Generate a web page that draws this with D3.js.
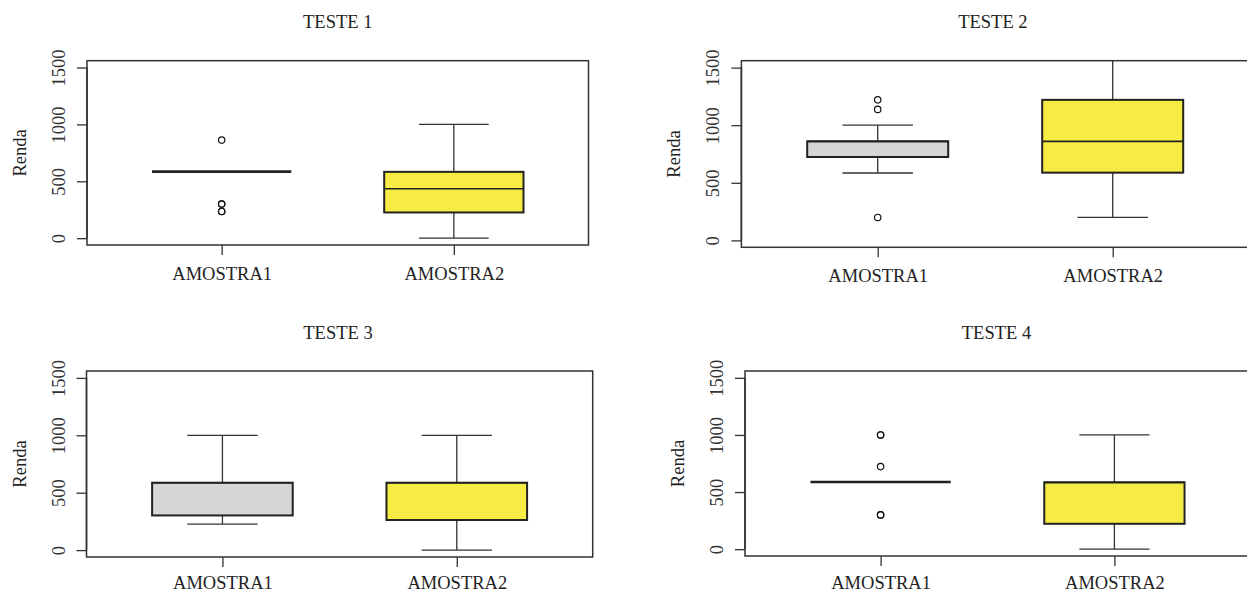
<!DOCTYPE html>
<html>
<head>
<meta charset="utf-8">
<script src="https://cdn.jsdelivr.net/npm/d3@7"></script>
<style>
  html, body { margin: 0; padding: 0; background: #fff; }
  svg { display: block; }
  svg text { font-family: "Liberation Serif", "Times New Roman", Times, serif !important; font-size: 18.5px; }
</style>
</head>
<body>
<svg id="chart" width="1247" height="594"></svg>
<script>
// Four boxplots of income (Renda), two samples each.

const tests = ['TESTE 1', 'TESTE 2', 'TESTE 3', 'TESTE 4'];
const samples = ['AMOSTRA1', 'AMOSTRA2'];
const yTicks = [0, 500, 1000, 1500];

// [lower whisker, Q1, median, Q3, upper whisker] per test
const amostra1Stats = [
  [585, 585, 585, 585, 585],
  [585, 724, 860, 860, 1000],
  [227, 302, 587, 587, 1000],
  [588, 588, 588, 588, 588],
];
const amostra2Stats = [
  [0, 226, 435, 583, 1000],
  [199, 588, 860, 1220, 2000],
  [0, 262, 587, 587, 1000],
  [0, 222, 585, 585, 1000],
];
const amostra1Outliers = [
  [862, 300, 300, 235, 235],
  [1220, 1137, 199],
  [],
  [1000, 1000, 723, 300, 300],
];
const amostra2Outliers = [[], [], [], []];

const fills = ['#d6d6d6', '#f7ec43'];

// plot frames: [left, top, right, bottom] and x-label offset
const frames = [
  [87, 60.7, 588.5, 245],
  [741.4, 60.7, 1249, 247.3],
  [86.5, 371, 592.7, 557],
  [745, 371, 1250, 556],
];
const labelOffsets = [35, 35, 32, 33];

const svg = d3.select('#chart');

tests.forEach((title, t) => {
  const [L, T, R, B] = frames[t];
  const x = d3.scaleLinear().domain([0.42, 2.58]).range([L, R]);
  const y = d3.scaleLinear().domain([-60, 1560]).range([B, T]);
  const g = svg.append('g');

  const clipId = 'clip' + t;
  g.append('clipPath').attr('id', clipId)
    .append('rect').attr('x', L).attr('y', T).attr('width', R - L).attr('height', B - T);

  const plot = g.append('g').attr('clip-path', `url(#${clipId})`);

  const stats = [amostra1Stats[t], amostra2Stats[t]];
  const outs = [amostra1Outliers[t], amostra2Outliers[t]];

  stats.forEach((s, i) => {
    const cx = x(i + 1);
    const half = x(i + 1.3) - cx;
    const staple = x(i + 1.15) - cx;
    const [lo, q1, med, q3, hi] = s;

    // whiskers
    plot.append('line').attr('x1', cx).attr('x2', cx).attr('y1', y(q1)).attr('y2', y(lo))
      .attr('stroke', '#333').attr('stroke-width', 1.3);
    plot.append('line').attr('x1', cx).attr('x2', cx).attr('y1', y(q3)).attr('y2', y(hi))
      .attr('stroke', '#333').attr('stroke-width', 1.3);
    plot.append('line').attr('x1', cx - staple).attr('x2', cx + staple).attr('y1', y(lo)).attr('y2', y(lo))
      .attr('stroke', '#333').attr('stroke-width', 1.3);
    plot.append('line').attr('x1', cx - staple).attr('x2', cx + staple).attr('y1', y(hi)).attr('y2', y(hi))
      .attr('stroke', '#333').attr('stroke-width', 1.3);

    // box
    plot.append('rect')
      .attr('x', cx - half).attr('y', y(q3))
      .attr('width', half * 2).attr('height', Math.max(0, y(q1) - y(q3)))
      .attr('fill', fills[i]).attr('stroke', '#222').attr('stroke-width', 2);

    // median
    plot.append('line').attr('x1', cx - half).attr('x2', cx + half).attr('y1', y(med)).attr('y2', y(med))
      .attr('stroke', '#222').attr('stroke-width', q1 === q3 ? 2.6 : 1.6);

    // outliers
    plot.selectAll(null).data(outs[i]).join('circle')
      .attr('cx', cx).attr('cy', (d) => y(d)).attr('r', 3.2)
      .attr('fill', 'none').attr('stroke', '#111').attr('stroke-width', 1.2);
  });

  // frame
  g.append('rect').attr('x', L).attr('y', T).attr('width', R - L).attr('height', B - T)
    .attr('fill', 'none').attr('stroke', '#333').attr('stroke-width', 1.5);

  // y axis
  const ya = g.append('g').attr('transform', `translate(${L},0)`)
    .call(d3.axisLeft(y).tickValues(yTicks).tickFormat(d3.format('d')).tickSize(10).tickSizeOuter(0))
    .attr('font-family', null).attr('font-size', null);
  ya.select('.domain').remove();
  ya.selectAll('.tick line').attr('stroke', '#333').attr('stroke-width', 1.3);
  ya.selectAll('.tick text')
    .attr('transform', 'rotate(-90)')
    .attr('x', 0).attr('y', -22).attr('dy', 0)
    .attr('text-anchor', 'middle')
    .attr('fill', '#333');
  g.append('line').attr('x1', L).attr('x2', L).attr('y1', y(0)).attr('y2', y(1500))
    .attr('stroke', '#333').attr('stroke-width', 1.5);

  // x axis
  const xa = g.append('g').attr('transform', `translate(0,${B})`)
    .call(d3.axisBottom(x).tickValues([1, 2]).tickFormat((d) => samples[d - 1]).tickSize(10))
    .attr('font-family', null).attr('font-size', null);
  xa.select('.domain').remove();
  xa.selectAll('.tick line').attr('stroke', '#333').attr('stroke-width', 1.3);
  xa.selectAll('.tick text')
    .attr('y', labelOffsets[t]).attr('dy', 0)
    .attr('fill', '#222');

  // y label
  g.append('text')
    .attr('transform', `translate(${L - 61},${(T + B) / 2}) rotate(-90)`)
    .attr('text-anchor', 'middle')
    .attr('fill', '#222')
    .text('Renda');

  // title
  g.append('text')
    .attr('x', (L + Math.min(R, L + 503)) / 2)
    .attr('y', T - 32.5)
    .attr('text-anchor', 'middle')
    .attr('fill', '#222')
    .text(title);
});
</script>
</body>
</html>
